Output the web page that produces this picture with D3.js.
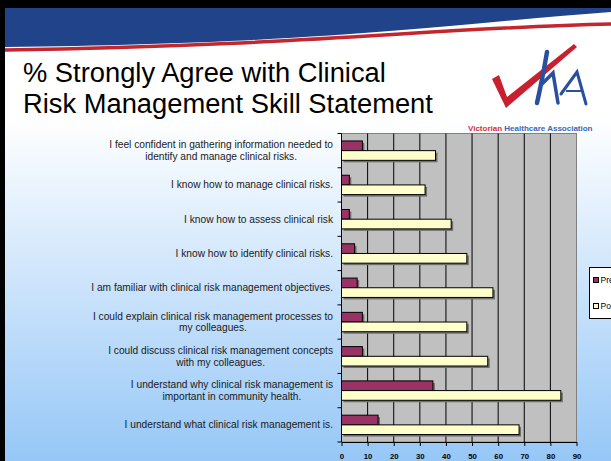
<!DOCTYPE html>
<html>
<head>
<meta charset="utf-8">
<script src="https://cdn.jsdelivr.net/npm/d3@7"></script>
<style>
body { margin: 0; padding: 0; background: #fff; }
svg { display: block; }
</style>
</head>
<body>
<div id="slide"></div>
<script>
// chart data
var categories = [
    "I feel confident in gathering information needed to\nidentify and manage clinical risks.",
    "I know how to manage clinical risks.",
    "I know how to assess clinical risk",
    "I know how to identify clinical risks.",
    "I am familiar with clinical risk management objectives.",
    "I could explain clinical risk management processes to\nmy colleagues.",
    "I could discuss clinical risk management concepts\nwith my colleagues.",
    "I understand why clinical risk management is\nimportant in community health.",
    "I understand what clinical risk management is."
]
var seriesNames = ["Pre", "Post"]
var preValues = [8, 3, 3, 5, 6, 8, 8, 35, 14]
var postValues = [36, 32, 42, 48, 58, 48, 56, 84, 68]
var xTicks = [0, 10, 20, 30, 40, 50, 60, 70, 80, 90]
var titleLines = ["% Strongly Agree with Clinical", "Risk Management Skill Statement"]

var width = 611, height = 461
var plot = {left: 341.5, right: 576.5, top: 133.5, bottom: 442}
var colors = {Pre: "#993366", Post: "#ffffcc"}

var svg = d3.select("#slide")
    .append("svg")
    .attr("width", width)
    .attr("height", height)
    .style("font-family", "'Liberation Sans', Arial, sans-serif")

var defs = svg.append("defs")
var grad = defs.append("linearGradient")
    .attr("id", "bg")
    .attr("x1", 0).attr("y1", 0).attr("x2", 0).attr("y2", 1)
grad.append("stop").attr("offset", "0%").attr("stop-color", "#ffffff")
grad.append("stop").attr("offset", "100%").attr("stop-color", "#96c7f7")

// slide background
svg.append("rect").attr("width", width).attr("height", height).attr("fill", "#fff")
svg.append("rect")
    .attr("x", 0).attr("y", 118)
    .attr("width", width).attr("height", height - 118)
    .attr("fill", "url(#bg)")

// header band with red swoosh
svg.append("path")
    .attr("d", "M5,8 L611,8 L611,12 C470,22 330,44 5,47 Z")
    .attr("fill", "#21438a")
svg.append("path")
    .attr("d", "M5,50 C300,46 430,28 611,24")
    .attr("fill", "none")
    .attr("stroke", "#c4262e")
    .attr("stroke-width", 3.5)
svg.append("rect").attr("x", 0).attr("y", 0).attr("width", width).attr("height", 8).attr("fill", "#000")
svg.append("rect").attr("x", 0).attr("y", 0).attr("width", 5).attr("height", height).attr("fill", "#000")

// title
var title = svg.append("g")
titleLines.forEach(function(line, i) {
    title.append("text")
        .attr("x", 23)
        .attr("y", 82 + i * 31)
        .style("font-size", "26px")
        .style("fill", "#000")
        .text(line)
})
var w0 = title.select("text").node().getComputedTextLength()
var fs = 26 * 363 / w0
title.selectAll("text").style("font-size", fs + "px")

// logo
var logo = svg.append("g")
logo.append("path")
    .attr("d", "M492,79 L499,75 L507,97 L574,44 L577,47 L506,108 Z")
    .attr("fill", "#c8202f")
logo.append("path")
    .attr("d", "M547,52 Q543,76 537,103")
    .attr("fill", "none").attr("stroke", "#2b4f9f").attr("stroke-width", 4.5)
    .attr("stroke-linecap", "round")
logo.append("path")
    .attr("d", "M541,85 L553,73 L558,103")
    .attr("fill", "none").attr("stroke", "#2b4f9f").attr("stroke-width", 3.5)
    .attr("stroke-linecap", "round")
logo.append("path")
    .attr("d", "M561,94 L577,72 L586,104")
    .attr("fill", "none").attr("stroke", "#2b4f9f").attr("stroke-width", 3)
    .attr("stroke-linecap", "round")
logo.append("path")
    .attr("d", "M566,91 L581,91")
    .attr("fill", "none").attr("stroke", "#2b4f9f").attr("stroke-width", 2)
var org = logo.append("text")
    .attr("x", 468).attr("y", 131)
    .style("font-size", "8px")
    .style("font-weight", "bold")
org.append("tspan").attr("fill", "#d0323e").text("Victorian ")
org.append("tspan").attr("fill", "#3966b6").text("Healthcare Association")

// scales
var x = d3.scaleLinear()
    .domain([0, 90])
    .range([plot.left, plot.right])
var y = d3.scaleBand()
    .domain(categories)
    .range([plot.top, plot.bottom])
    .padding(0)
var ySub = d3.scaleBand()
    .domain(seriesNames)
    .range([0, y.bandwidth()])
    .paddingInner(0)
    .paddingOuter(0.77)

// plot area
svg.append("rect")
    .attr("x", plot.left).attr("y", plot.top)
    .attr("width", plot.right - plot.left).attr("height", plot.bottom - plot.top)
    .attr("fill", "#c0c0c0")
    .attr("stroke", "#808080")

svg.append("g")
    .selectAll("line")
    .data(xTicks.slice(1))
    .enter()
    .append("line")
    .attr("x1", function(d) { return x(d) })
    .attr("x2", function(d) { return x(d) })
    .attr("y1", plot.top)
    .attr("y2", plot.bottom)
    .attr("stroke", function(d) { return d == 90 ? "#808080" : "#000" })
    .attr("stroke-width", 1)

// bars
var rows = categories.map(function(c, i) {
    return [{cat: c, key: "Pre", value: preValues[i]}, {cat: c, key: "Post", value: postValues[i]}]
})
var flat = [].concat.apply([], rows)

svg.append("g")
    .selectAll("rect")
    .data(flat)
    .enter()
    .append("rect")
    .attr("x", x(0) + 2)
    .attr("y", function(d) { return y(d.cat) + ySub(d.key) + 2 })
    .attr("width", function(d) { return x(d.value) - x(0) })
    .attr("height", ySub.bandwidth())
    .attr("fill", "#6e6e6e")

svg.append("g")
    .selectAll("rect")
    .data(flat)
    .enter()
    .append("rect")
    .attr("x", x(0))
    .attr("y", function(d) { return y(d.cat) + ySub(d.key) })
    .attr("width", function(d) { return x(d.value) - x(0) })
    .attr("height", ySub.bandwidth())
    .attr("fill", function(d) { return colors[d.key] })
    .attr("stroke", "#000")
    .attr("stroke-width", 1)

// axes
var xAxis = svg.append("g")
    .attr("transform", "translate(0," + plot.bottom + ")")
    .call(d3.axisBottom(x).tickValues(xTicks).tickSize(4).tickSizeOuter(0))
xAxis.selectAll("text")
    .attr("dy", "0.71em")
    .attr("y", 11)
    .style("font-size", "7.8px")
    .style("font-weight", "bold")
    .style("fill", "#000")
    .style("font-family", "'Liberation Sans', Arial, sans-serif")

svg.append("line")
    .attr("x1", plot.left).attr("x2", plot.left)
    .attr("y1", plot.top).attr("y2", plot.bottom)
    .attr("stroke", "#000")
svg.append("g")
    .selectAll("line")
    .data(categories)
    .enter()
    .append("line")
    .attr("x1", plot.left - 4).attr("x2", plot.left)
    .attr("y1", function(d) { return y(d) })
    .attr("y2", function(d) { return y(d) })
    .attr("stroke", "#000")
svg.append("line")
    .attr("x1", plot.left - 4).attr("x2", plot.left)
    .attr("y1", plot.bottom).attr("y2", plot.bottom)
    .attr("stroke", "#000")

// category labels, each block right-aligned with its lines centered
var labelRight = 333, lineGap = 11.7
categories.forEach(function(c) {
    var lines = c.split("\n")
    var t = svg.append("text")
        .style("font-size", "10.2px")
        .style("fill", "#1a1a1a")
        .attr("text-anchor", "middle")
    var spans = lines.map(function(l, i) {
        return t.append("tspan")
            .attr("y", y(c) + y.bandwidth() / 2 + (i - (lines.length - 1) / 2) * lineGap)
            .attr("dy", "0.35em")
            .text(l)
    })
    var maxW = d3.max(spans, function(s) { return s.node().getComputedTextLength() })
    spans.forEach(function(s) { s.attr("x", labelRight - maxW / 2) })
})

// legend (runs off the slide's right edge, as in the original)
var legend = svg.append("g")
legend.append("rect")
    .attr("x", 589.5).attr("y", 267.5)
    .attr("width", 40).attr("height", 51)
    .attr("fill", "#fff")
    .attr("stroke", "#000")
seriesNames.forEach(function(s, i) {
    legend.append("rect")
        .attr("x", 593.5).attr("y", 277.5 + i * 26)
        .attr("width", 5).attr("height", 5)
        .attr("fill", colors[s])
        .attr("stroke", "#000")
    legend.append("text")
        .attr("x", 600.5).attr("y", 280 + i * 26)
        .attr("dy", "0.35em")
        .style("font-size", "8.5px")
        .style("fill", "#000")
        .text(s)
})
</script>
</body>
</html>
